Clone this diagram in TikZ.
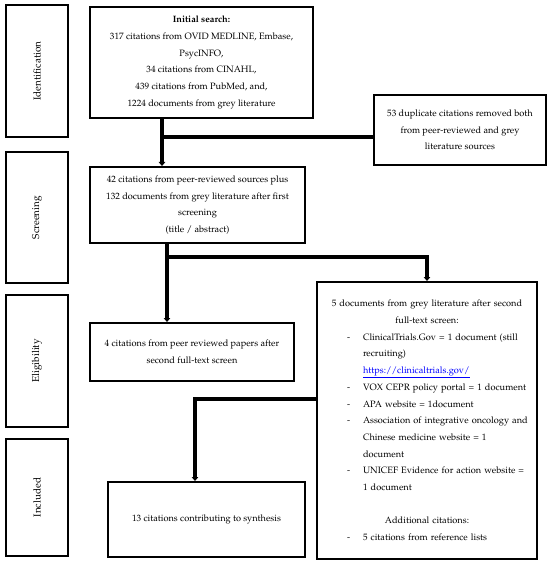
\documentclass[tikz,border=0pt]{standalone}
\usepackage[T1]{fontenc}
\usepackage{mathpazo}
\usetikzlibrary{arrows.meta}
\newcommand\gcl[1]{\makebox[\hsize][c]{#1}}
\newcommand\gbl[1]{\hspace*{23pt}\makebox[16pt][l]{-}#1}
\newcommand\gil[1]{\hspace*{39pt}#1}
\begin{document}
\begin{tikzpicture}[x=1pt,y=-1pt,
  box/.style={draw,line width=2pt,align=center,inner sep=0pt,font=\fontsize{9.2}{16.7}\selectfont},
  stage/.style={box,rotate=90,minimum height=62pt,font=\fontsize{10}{12}\selectfont},
  conn/.style={line width=3.8pt},
  arr/.style={conn,-{Triangle[length=4pt,width=6.5pt]}}]
\useasboundingbox (0,0) rectangle (550,564);
% stages
\node[stage,minimum width=132pt] (sid) at (37,71) {Identification};
\node[stage,minimum width=131pt] (ssc) at (37,217.5) {Screening};
\node[stage,minimum width=132pt] (sel) at (37,361) {Eligibility};
\node[stage,minimum width=117pt] (sin) at (37,497.5) {Included};
% boxes
\node[box,minimum width=223pt,minimum height=111pt] (init) at (201.5,62.5)
 {\textbf{Initial search:}\\317 citations from OVID MEDLINE, Embase,\\PsycINFO,\\34 citations from CINAHL,\\439 citations from PubMed, and,\\1224 documents from grey literature};
\node[box,minimum width=172pt,minimum height=70pt] (dup) at (460,130)
 {53 duplicate citations removed both\\from peer-reviewed and grey\\literature sources};
\node[box,minimum width=215pt,minimum height=76pt] (scrbox) at (197.5,205)
 {42 citations from peer-reviewed sources plus\\132 documents from grey literature after first\\screening\\(title / abstract)};
\node[box,minimum width=204pt,minimum height=58pt] (eligbox) at (192,352)
 {4 citations from peer reviewed papers after\\second full-text screen};
\node[box,minimum width=220pt,minimum height=277pt,text width=206pt,align=left] (grey) at (427,420.5)
 {\gcl{5 documents from grey literature after second}\\
  \gcl{full-text screen:}\\
  \gbl{ClinicalTrials.Gov = 1 document (still}\\
  \gil{recruiting)}\\
  \gil{\textcolor{blue}{\underline{https://clinicaltrials.gov/}}}\\
  \gbl{VOX CEPR policy portal = 1 document}\\
  \gbl{APA website = 1document}\\
  \gbl{Association of integrative oncology and}\\
  \gil{Chinese medicine website = 1}\\
  \gil{document}\\
  \gbl{UNICEF Evidence for action website =}\\
  \gil{1 document}\\
  \mbox{}\\
  \gcl{Additional citations:}\\
  \gbl{5 citations from reference lists}};
\node[box,minimum width=197pt,minimum height=75pt] (inclbox) at (206.5,519.5)
 {13 citations contributing to synthesis};
% connectors
\coordinate (j1) at (162,137);
\draw[arr] (j1 |- init.south) -- (j1 |- scrbox.north);
\draw[conn] (j1) -- (j1 -| dup.west);
\coordinate (j2) at (167,257);
\draw[arr] (j2 |- scrbox.south) -- (j2 |- eligbox.north);
\draw[arr] (j2) -| (grey.north);
\coordinate (j3) at (195,399);
\draw[arr] (j3 -| grey.west) -| (j3 |- inclbox.north);
\end{tikzpicture}
\end{document}
